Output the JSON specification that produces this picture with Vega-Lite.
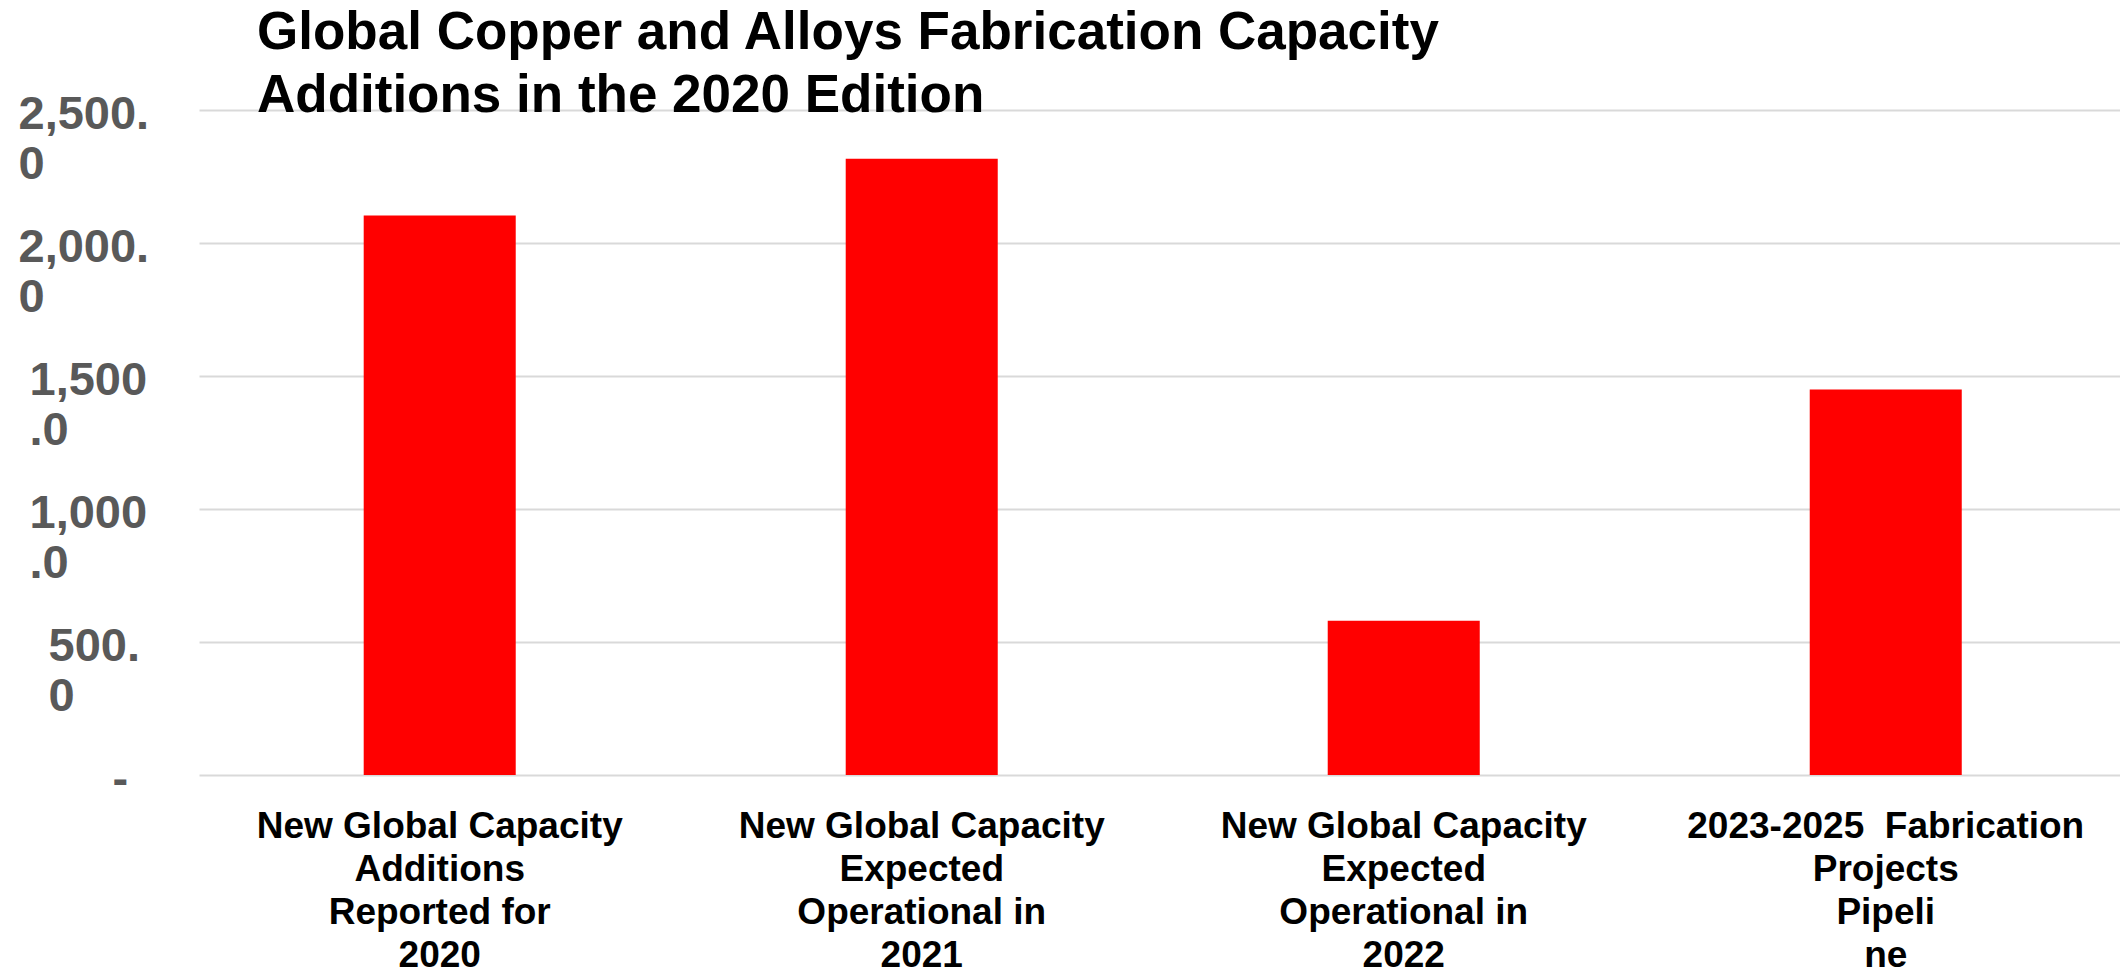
{
  "$schema": "https://vega.github.io/schema/vega-lite/v6.json",
  "autosize": {"type": "none"},
  "padding": {"left": 199, "top": 110, "right": 0, "bottom": 199},
  "width": 1921,
  "height": 665,
  "background": "white",
  "title": {
    "text": ["Global Copper and Alloys Fabrication Capacity", "Additions in the 2020 Edition"],
    "anchor": "start",
    "frame": "group",
    "dx": 58,
    "font": "Liberation Sans",
    "fontSize": 53,
    "fontWeight": "bold",
    "color": "black",
    "lineHeight": 63,
    "baseline": "alphabetic",
    "offset": -75
  },
  "config": {
    "view": {"stroke": null},
    "axis": {"labelFont": "Liberation Sans", "labelFontWeight": "bold"}
  },
  "data": {
    "values": [
      {"category": "New Global Capacity Additions Reported for 2020", "value": 2103},
      {"category": "New Global Capacity Expected Operational in 2021", "value": 2317},
      {"category": "New Global Capacity Expected Operational in 2022", "value": 580},
      {"category": "2023-2025 Fabrication Projects Pipeline", "value": 1449}
    ]
  },
  "mark": {"type": "bar", "color": "#FF0000"},
  "encoding": {
    "x": {
      "field": "category",
      "type": "nominal",
      "sort": null,
      "scale": {"paddingInner": 0.6846, "paddingOuter": 0.335, "align": 0.51},
      "axis": {
        "title": null,
        "domain": false,
        "ticks": false,
        "tickSize": 0,
        "labelAngle": 0,
        "labelFontSize": 37,
        "labelColor": "black",
        "labelLineHeight": 43,
        "labelBaseline": "top",
        "labelPadding": 33,
        "labelLimit": 1000,
        "labelOverlap": false,
        "labelBound": false,
        "labelExpr": "datum.value == 'New Global Capacity Additions Reported for 2020' ? ['New Global Capacity', 'Additions', 'Reported for', '2020'] : datum.value == 'New Global Capacity Expected Operational in 2021' ? ['New Global Capacity', 'Expected', 'Operational in', '2021'] : datum.value == 'New Global Capacity Expected Operational in 2022' ? ['New Global Capacity', 'Expected', 'Operational in', '2022'] : ['2023-2025\u00a0 Fabrication', 'Projects', 'Pipeli', 'ne']"
      }
    },
    "y": {
      "field": "value",
      "type": "quantitative",
      "scale": {"domain": [0, 2500], "nice": false},
      "axis": {
        "title": null,
        "domain": false,
        "ticks": false,
        "tickSize": 0,
        "values": [0, 500, 1000, 1500, 2000, 2500],
        "grid": true,
        "gridColor": "#D9D9D9",
        "gridWidth": 2,
        "labelFontSize": 47,
        "labelColor": "#595959",
        "labelLineHeight": 50,
        "labelAlign": "left",
        "labelBaseline": "top",
        "labelOffset": -19,
        "labelPadding": {
          "condition": [
            {"test": "datum.value >= 2000", "value": 181},
            {"test": "datum.value >= 1000", "value": 170},
            {"test": "datum.value >= 500", "value": 151}
          ],
          "value": 87
        },
        "labelOverlap": false,
        "labelBound": false,
        "labelFlush": false,
        "labelLimit": 1000,
        "labelExpr": "datum.value == 0 ? '-' : datum.value == 500 ? ['500.', '0'] : datum.value == 1000 ? ['1,000', '.0'] : datum.value == 1500 ? ['1,500', '.0'] : datum.value == 2000 ? ['2,000.', '0'] : ['2,500.', '0']"
      }
    }
  }
}
